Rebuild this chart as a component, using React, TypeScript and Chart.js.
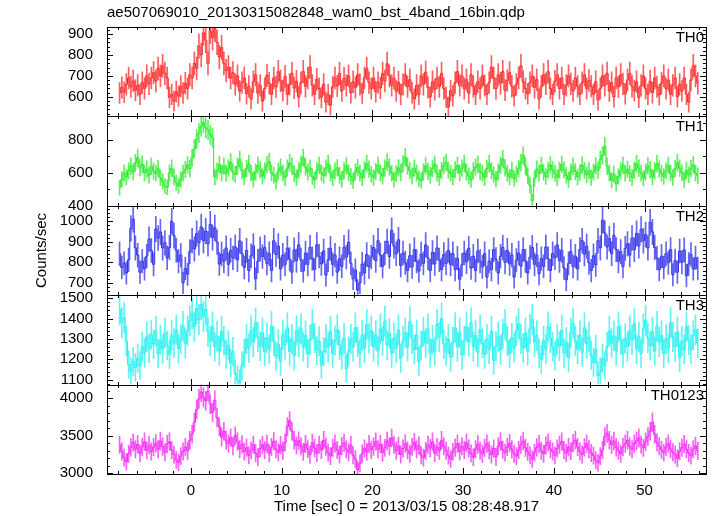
import React, { useEffect, useRef } from "react";
import { Chart, registerables } from "chart.js";

Chart.register(...registerables);

const TITLE = "ae507069010_20130315082848_wam0_bst_4band_16bin.qdp";
const X_TITLE = "Time [sec] 0 = 2013/03/15 08:28:48.917";
const Y_TITLE = "Counts/sec";

const BIN_WIDTH = 0.25;
const FIRST_BIN_START = -8;
const X_MIN = -9.26;
const X_MAX = 56.78;
const X_TICKS = [0, 10, 20, 30, 40, 50];
const X_MINOR_STEP = 2;

// TH0 count rate, 0.25 s bins starting at t = -8 s
const TH0 = [
  618, 645, 622, 660, 690, 648, 676, 632, 655, 612, 668, 640, 700, 662, 690, 715,
  676, 735, 700, 748, 712, 690, 598, 612, 580, 625, 604, 650, 618, 665, 640, 705,
  690, 760, 735, 842, 800, 905, 870, 760, 915, 882, 925, 860, 790, 835, 760, 725,
  742, 690, 715, 660, 700, 628, 668, 690, 615, 650, 590, 672, 705, 618, 655, 580,
  640, 702, 665, 612, 690, 648, 720, 676, 630, 698, 612, 660, 712, 642, 675, 600,
  668, 720, 650, 690, 742, 655, 612, 684, 640, 598, 660, 575, 612, 560, 648, 690,
  652, 712, 628, 688, 655, 700, 620, 672, 645, 705, 660, 618, 690, 735, 668, 640,
  690, 625, 668, 642, 712, 676, 758, 700, 655, 690, 628, 670, 612, 660, 705, 648,
  682, 620, 590, 655, 612, 700, 660, 718, 645, 600, 672, 635, 690, 648, 712, 640,
  598, 552, 630, 605, 668, 720, 655, 700, 640, 682, 618, 705, 650, 612, 672, 640,
  700, 655, 612, 668, 742, 690, 640, 705, 665, 720, 632, 678, 715, 650, 605, 660,
  690, 748, 672, 640, 615, 668, 700, 645, 682, 590, 650, 705, 662, 720, 640, 612,
  675, 705, 640, 690, 612, 655, 700, 662, 628, 690, 650, 612, 668, 705, 640, 678,
  650, 612, 672, 585, 640, 700, 655, 712, 628, 668, 600, 690, 648, 705, 662, 615,
  680, 712, 650, 630, 672, 598, 655, 700, 640, 612, 675, 620, 690, 648, 610, 665,
  700, 640, 680, 612, 655, 690, 600, 660, 628, 690, 612, 575, 680, 748, 700, 665,
];

const TH1 = [
  510, 560, 598, 575, 612, 640, 605, 660, 690, 630, 652, 600, 622, 585, 640, 610,
  598, 625, 570, 548, 520, 512, 600, 628, 575, 540, 520, 560, 598, 620, 648, 625,
  690, 745, 805, 840, 882, 905, 872, 860, 830, 812, 575, 610, 650, 600, 640, 598,
  628, 665, 605, 590, 640, 680, 612, 575, 625, 655, 598, 560, 605, 645, 618, 580,
  612, 648, 668, 600, 585, 548, 610, 635, 598, 570, 628, 660, 640, 595, 572, 615,
  650, 692, 635, 605, 628, 578, 556, 612, 645, 600, 585, 628, 655, 598, 570, 612,
  630, 585, 560, 612, 642, 600, 578, 552, 605, 632, 598, 570, 618, 655, 622, 590,
  572, 608, 645, 600, 580, 628, 665, 635, 598, 560, 595, 630, 602, 655, 695, 640,
  612, 580, 628, 600, 565, 552, 605, 642, 610, 585, 625, 652, 598, 572, 615, 645,
  662, 615, 598, 575, 618, 645, 600, 628, 655, 605, 580, 558, 612, 635, 650, 608,
  598, 570, 625, 655, 612, 588, 560, 605, 645, 685, 630, 598, 575, 615, 565, 592,
  625, 662, 705, 640, 582, 525, 430, 565, 622, 598, 645, 605, 578, 615, 648, 618,
  598, 572, 615, 652, 618, 585, 558, 605, 640, 608, 575, 602, 645, 615, 588, 612,
  572, 605, 642, 615, 680, 705, 762, 640, 598, 555, 592, 535, 578, 612, 645, 598,
  622, 595, 572, 615, 655, 628, 598, 568, 605, 642, 618, 575, 612, 655, 622, 598,
  578, 612, 645, 598, 572, 625, 662, 628, 600, 558, 615, 588, 625, 648, 598, 582,
];

const TH2 = [
  842, 775, 795, 748, 812, 965, 1010, 870, 835, 752, 805, 768, 830, 912, 858, 790,
  962, 918, 948, 870, 895, 822, 872, 1000, 930, 858, 805, 835, 700, 770, 742, 852,
  905, 865, 940, 895, 972, 905, 952, 890, 985, 920, 968, 898, 792, 840, 805, 870,
  790, 858, 822, 875, 812, 905, 842, 775, 858, 760, 832, 880, 720, 805, 865, 828,
  872, 795, 842, 760, 905, 838, 880, 768, 835, 790, 868, 815, 752, 860, 808, 885,
  812, 758, 845, 790, 872, 818, 765, 885, 830, 792, 855, 738, 812, 868, 790, 835,
  752, 818, 780, 872, 825, 898, 795, 720, 762, 665, 700, 792, 748, 838, 778, 825,
  872, 808, 905, 835, 780, 845, 902, 828, 955, 880, 842, 910, 785, 845, 798, 760,
  832, 778, 862, 805, 758, 840, 795, 885, 822, 760, 848, 792, 870, 812, 765, 838,
  795, 858, 790, 842, 765, 820, 718, 788, 845, 802, 868, 772, 830, 760, 855, 805,
  778, 842, 728, 805, 765, 862, 815, 748, 830, 872, 800, 858, 792, 835, 728, 810,
  845, 782, 862, 808, 748, 825, 872, 790, 835, 745, 818, 780, 875, 818, 760, 842,
  822, 885, 808, 858, 772, 715, 795, 852, 780, 830, 768, 862, 905, 840, 878, 798,
  760, 832, 788, 905, 870, 1005, 942, 875, 915, 842, 930, 862, 805, 852, 780, 868,
  890, 835, 918, 862, 940, 880, 960, 905, 935, 870, 995, 948, 872, 820, 765, 830,
  775, 842, 798, 862, 740, 808, 752, 855, 800, 860, 735, 792, 838, 768, 822, 770,
];

const TH3 = [
  1445, 1380, 1405, 1290, 1175, 1140, 1190, 1160, 1205, 1170, 1262, 1230, 1310, 1255, 1320, 1275,
  1340, 1228, 1295, 1250, 1330, 1268, 1225, 1318, 1280, 1345, 1252, 1300, 1362, 1278, 1340, 1390,
  1425, 1360, 1450, 1395, 1470, 1410, 1445, 1335, 1290, 1360, 1262, 1315, 1240, 1338, 1292, 1225,
  1270, 1182, 1238, 1130, 1100, 1085, 1170, 1228, 1300, 1255, 1342, 1285, 1378, 1310, 1265, 1330,
  1238, 1305, 1250, 1362, 1290, 1215, 1275, 1190, 1320, 1272, 1355, 1240, 1300, 1218, 1342, 1285,
  1350, 1262, 1318, 1228, 1295, 1372, 1305, 1245, 1290, 1175, 1238, 1300, 1260, 1338, 1228, 1292,
  1345, 1270, 1222, 1305, 1155, 1240, 1300, 1262, 1355, 1285, 1230, 1318, 1255, 1372, 1302, 1340,
  1262, 1318, 1240, 1350, 1292, 1388, 1270, 1328, 1230, 1305, 1255, 1345, 1205, 1290, 1330, 1262,
  1385, 1300, 1248, 1320, 1190, 1268, 1335, 1280, 1350, 1232, 1295, 1240, 1372, 1310, 1400, 1275,
  1240, 1300, 1210, 1285, 1355, 1262, 1330, 1222, 1292, 1360, 1285, 1380, 1262, 1318, 1235, 1345,
  1280, 1225, 1300, 1250, 1338, 1195, 1265, 1310, 1245, 1325, 1372, 1290, 1228, 1305, 1258, 1340,
  1375, 1300, 1255, 1330, 1240, 1350, 1395, 1285, 1318, 1228, 1200, 1292, 1250, 1360, 1305, 1262,
  1218, 1300, 1265, 1342, 1230, 1285, 1210, 1330, 1378, 1290, 1250, 1318, 1235, 1355, 1275, 1310,
  1220, 1185, 1248, 1120, 1140, 1205, 1170, 1262, 1338, 1280, 1315, 1240, 1360, 1295, 1230, 1302,
  1262, 1340, 1295, 1375, 1250, 1310, 1228, 1350, 1392, 1305, 1268, 1335, 1240, 1362, 1285, 1318,
  1228, 1300, 1255, 1380, 1310, 1262, 1335, 1208, 1290, 1248, 1360, 1295, 1250, 1318, 1345, 1280,
];

const TH0123 = [
  3380, 3290, 3210, 3155, 3260, 3345, 3410, 3320, 3385, 3265, 3350, 3420, 3305, 3375, 3290, 3350,
  3400, 3320, 3430, 3355, 3280, 3390, 3420, 3310, 3250, 3180, 3145, 3230, 3290, 3350, 3300, 3440,
  3520, 3680, 3850, 3990, 4080, 4010, 3965, 4090, 3920, 3810, 3970, 3740, 3620, 3480, 3560, 3440,
  3395, 3475, 3360, 3500, 3420, 3325, 3385, 3290, 3340, 3240, 3305, 3380, 3270, 3215, 3330, 3380,
  3310, 3390, 3265, 3350, 3425, 3320, 3280, 3375, 3300, 3410, 3620, 3700, 3560, 3440, 3370, 3435,
  3360, 3285, 3390, 3320, 3250, 3405, 3335, 3270, 3380, 3310, 3440, 3355, 3275, 3230, 3340, 3395,
  3310, 3250, 3360, 3405, 3320, 3280, 3375, 3240, 3190, 3050, 3130, 3260, 3330, 3285, 3390, 3310,
  3355, 3420, 3320, 3390, 3275, 3340, 3430, 3360, 3470, 3380, 3300, 3365, 3250, 3330, 3395, 3305,
  3260, 3350, 3415, 3320, 3370, 3240, 3210, 3300, 3380, 3335, 3420, 3270, 3350, 3300, 3440, 3360,
  3300, 3235, 3190, 3285, 3340, 3395, 3290, 3360, 3310, 3405, 3330, 3265, 3215, 3320, 3385, 3300,
  3260, 3340, 3395, 3305, 3250, 3330, 3220, 3360, 3420, 3315, 3275, 3350, 3400, 3320, 3260, 3230,
  3310, 3380, 3430, 3340, 3285, 3240, 3190, 3275, 3345, 3390, 3300, 3260, 3370, 3410, 3325, 3290,
  3240, 3330, 3380, 3420, 3310, 3270, 3350, 3295, 3400, 3440, 3350, 3290, 3250, 3345, 3395, 3320,
  3270, 3235, 3175, 3140, 3230, 3310, 3490, 3530, 3440, 3380, 3430, 3345, 3300, 3260, 3350, 3395,
  3440, 3355, 3320, 3395, 3430, 3470, 3380, 3340, 3420, 3490, 3560, 3680, 3520, 3410, 3360, 3310,
  3275, 3350, 3395, 3320, 3280, 3250, 3200, 3295, 3340, 3390, 3320, 3270, 3235, 3320, 3365, 3300,
];

const PANEL_NAMES = ["TH0", "TH1", "TH2", "TH3", "TH0123"];
const PANEL_SERIES = [TH0, TH1, TH2, TH3, TH0123];
const Y_MIN = [507, 400, 640, 1076, 2991];
const Y_MAX = [933, 942, 1075, 1515, 4180];
const Y_LABEL_TICKS = [
  [600, 700, 800, 900],
  [400, 600, 800],
  [700, 800, 900, 1000],
  [1100, 1200, 1300, 1400, 1500],
  [3000, 3500, 4000],
];
const Y_MINOR_STEP = [20, 100, 20, 20, 100];

const PANEL_COLORS = [
  [255, 40, 40],
  [40, 235, 40],
  [50, 50, 235],
  [40, 240, 240],
  [245, 40, 245],
];

const FONT_FAMILY = '"Liberation Sans", Helvetica, Arial, sans-serif';
const FONT = { family: FONT_FAMILY, size: 15 };

const rgba = (c: number[], a: number) => `rgba(${c[0]},${c[1]},${c[2]},${a})`;
// Poisson error of a rate measured in a bin of BIN_WIDTH seconds
const rateError = (v: number) => Math.sqrt(v / BIN_WIDTH);

const framePlugin = {
  id: "qdpFrame",
  afterDatasetsDraw(chart: any) {
    const ctx = chart.ctx as CanvasRenderingContext2D;
    const xs = chart.scales.x;
    const left = Math.round(chart.chartArea.left);
    const right = Math.round(chart.chartArea.right);
    ctx.save();
    ctx.strokeStyle = "#000";
    ctx.lineWidth = 1;
    const seg = (x1: number, y1: number, x2: number, y2: number) => {
      ctx.beginPath();
      ctx.moveTo(x1, y1);
      ctx.lineTo(x2, y2);
      ctx.stroke();
    };
    PANEL_NAMES.forEach((name, p) => {
      const ys = chart.scales["y" + p];
      const top = Math.round(ys.top);
      const bottom = Math.round(ys.bottom);
      ctx.strokeRect(left + 0.5, top + 0.5, right - left, bottom - top);
      for (let v = Math.ceil(X_MIN / X_MINOR_STEP) * X_MINOR_STEP; v <= X_MAX; v += X_MINOR_STEP) {
        const px = Math.round(xs.getPixelForValue(v)) + 0.5;
        const len = v % 10 === 0 ? 6 : 3;
        seg(px, top, px, top + len);
        seg(px, bottom, px, bottom - len);
      }
      const step = Y_MINOR_STEP[p];
      for (let v = Math.ceil(Y_MIN[p] / step) * step; v <= Y_MAX[p]; v += step) {
        const py = Math.round(ys.getPixelForValue(v)) + 0.5;
        const len = Y_LABEL_TICKS[p].includes(v) ? 6 : 3;
        seg(left, py, left + len, py);
        seg(right, py, right - len, py);
      }
      ctx.fillStyle = "#000";
      ctx.font = `15px ${FONT_FAMILY}`;
      ctx.textAlign = "right";
      ctx.textBaseline = "middle";
      ctx.fillText(name, right - 2, top + 11);
    });
    ctx.restore();
  },
};

export default function App() {
  const canvasRef = useRef<HTMLCanvasElement | null>(null);

  useEffect(() => {
    if (!canvasRef.current) return;
    const times = TH0.map((_, i) => FIRST_BIN_START + BIN_WIDTH * (i + 0.5));

    const datasets: any[] = [];
    PANEL_SERIES.forEach((series, p) => {
      const color = PANEL_COLORS[p];
      datasets.push({
        type: "bar",
        label: PANEL_NAMES[p] + " error",
        yAxisID: "y" + p,
        xAxisID: "x",
        data: series.map((v, i) => ({ x: times[i], y: [v - rateError(v), v + rateError(v)] })),
        backgroundColor: rgba(color, 0.75),
        borderWidth: 0,
        barThickness: 1,
        grouped: false,
        order: 2,
      });
      datasets.push({
        type: "line",
        label: PANEL_NAMES[p],
        yAxisID: "y" + p,
        xAxisID: "x",
        data: series.map((v, i) => ({ x: times[i], y: v })),
        borderColor: rgba(color, 1),
        borderWidth: 1,
        pointRadius: 0,
        stepped: "middle",
        fill: false,
        order: 1,
      });
    });

    const scales: any = {
      x: {
        type: "linear",
        position: "bottom",
        offset: false,
        min: X_MIN,
        max: X_MAX,
        grid: { display: false, drawTicks: false, offset: false },
        border: { display: false },
        afterBuildTicks: (s: any) => {
          s.ticks = X_TICKS.map((value) => ({ value }));
        },
        afterFit: (s: any) => {
          s.height = 42;
          s.paddingLeft = 0;
          s.paddingRight = 0;
        },
        ticks: {
          color: "#000",
          font: FONT,
          padding: 8,
          maxRotation: 0,
          autoSkip: false,
          callback: (v: any) => String(v),
        },
        title: {
          display: true,
          text: X_TITLE,
          color: "#000",
          font: FONT,
          padding: { top: 0, bottom: 0 },
        },
      },
    };
    for (let p = PANEL_NAMES.length - 1; p >= 0; p--) {
      scales["y" + p] = {
        type: "linear",
        position: "left",
        stack: "panels",
        stackWeight: 1,
        offset: false,
        min: Y_MIN[p],
        max: Y_MAX[p],
        grid: { display: false, drawTicks: false },
        border: { display: false },
        afterBuildTicks: (s: any) => {
          s.ticks = Y_LABEL_TICKS[p].map((value) => ({ value }));
        },
        afterFit: (s: any) => {
          s.width = 107;
          s.paddingTop = 0;
          s.paddingBottom = 0;
        },
        ticks: {
          color: "#000",
          font: FONT,
          padding: 14,
          autoSkip: false,
          callback: (v: any) => String(v),
        },
        title:
          p === 2
            ? { display: true, text: Y_TITLE, color: "#000", font: FONT, padding: { top: 33, bottom: 0 } }
            : { display: false },
      };
    }

    const chart = new Chart(canvasRef.current, {
      type: "line",
      data: { datasets },
      options: {
        animation: false,
        responsive: false,
        devicePixelRatio: 1,
        layout: { padding: { left: 0, right: 11, top: 0, bottom: 0 } },
        plugins: {
          legend: { display: false },
          tooltip: { enabled: false },
          title: {
            display: true,
            text: TITLE,
            align: "start",
            fullSize: false,
            color: "#000",
            font: { family: FONT_FAMILY, size: 15, weight: "normal" },
            padding: { top: 4, bottom: 5 },
          },
        },
        scales,
      } as any,
      plugins: [framePlugin],
    });
    return () => chart.destroy();
  }, []);

  return (
    <div style={{ position: "absolute", left: 0, top: 0, width: 717, height: 516, background: "#fff" }}>
      <canvas ref={canvasRef} width={717} height={516} style={{ display: "block" }} />
    </div>
  );
}
